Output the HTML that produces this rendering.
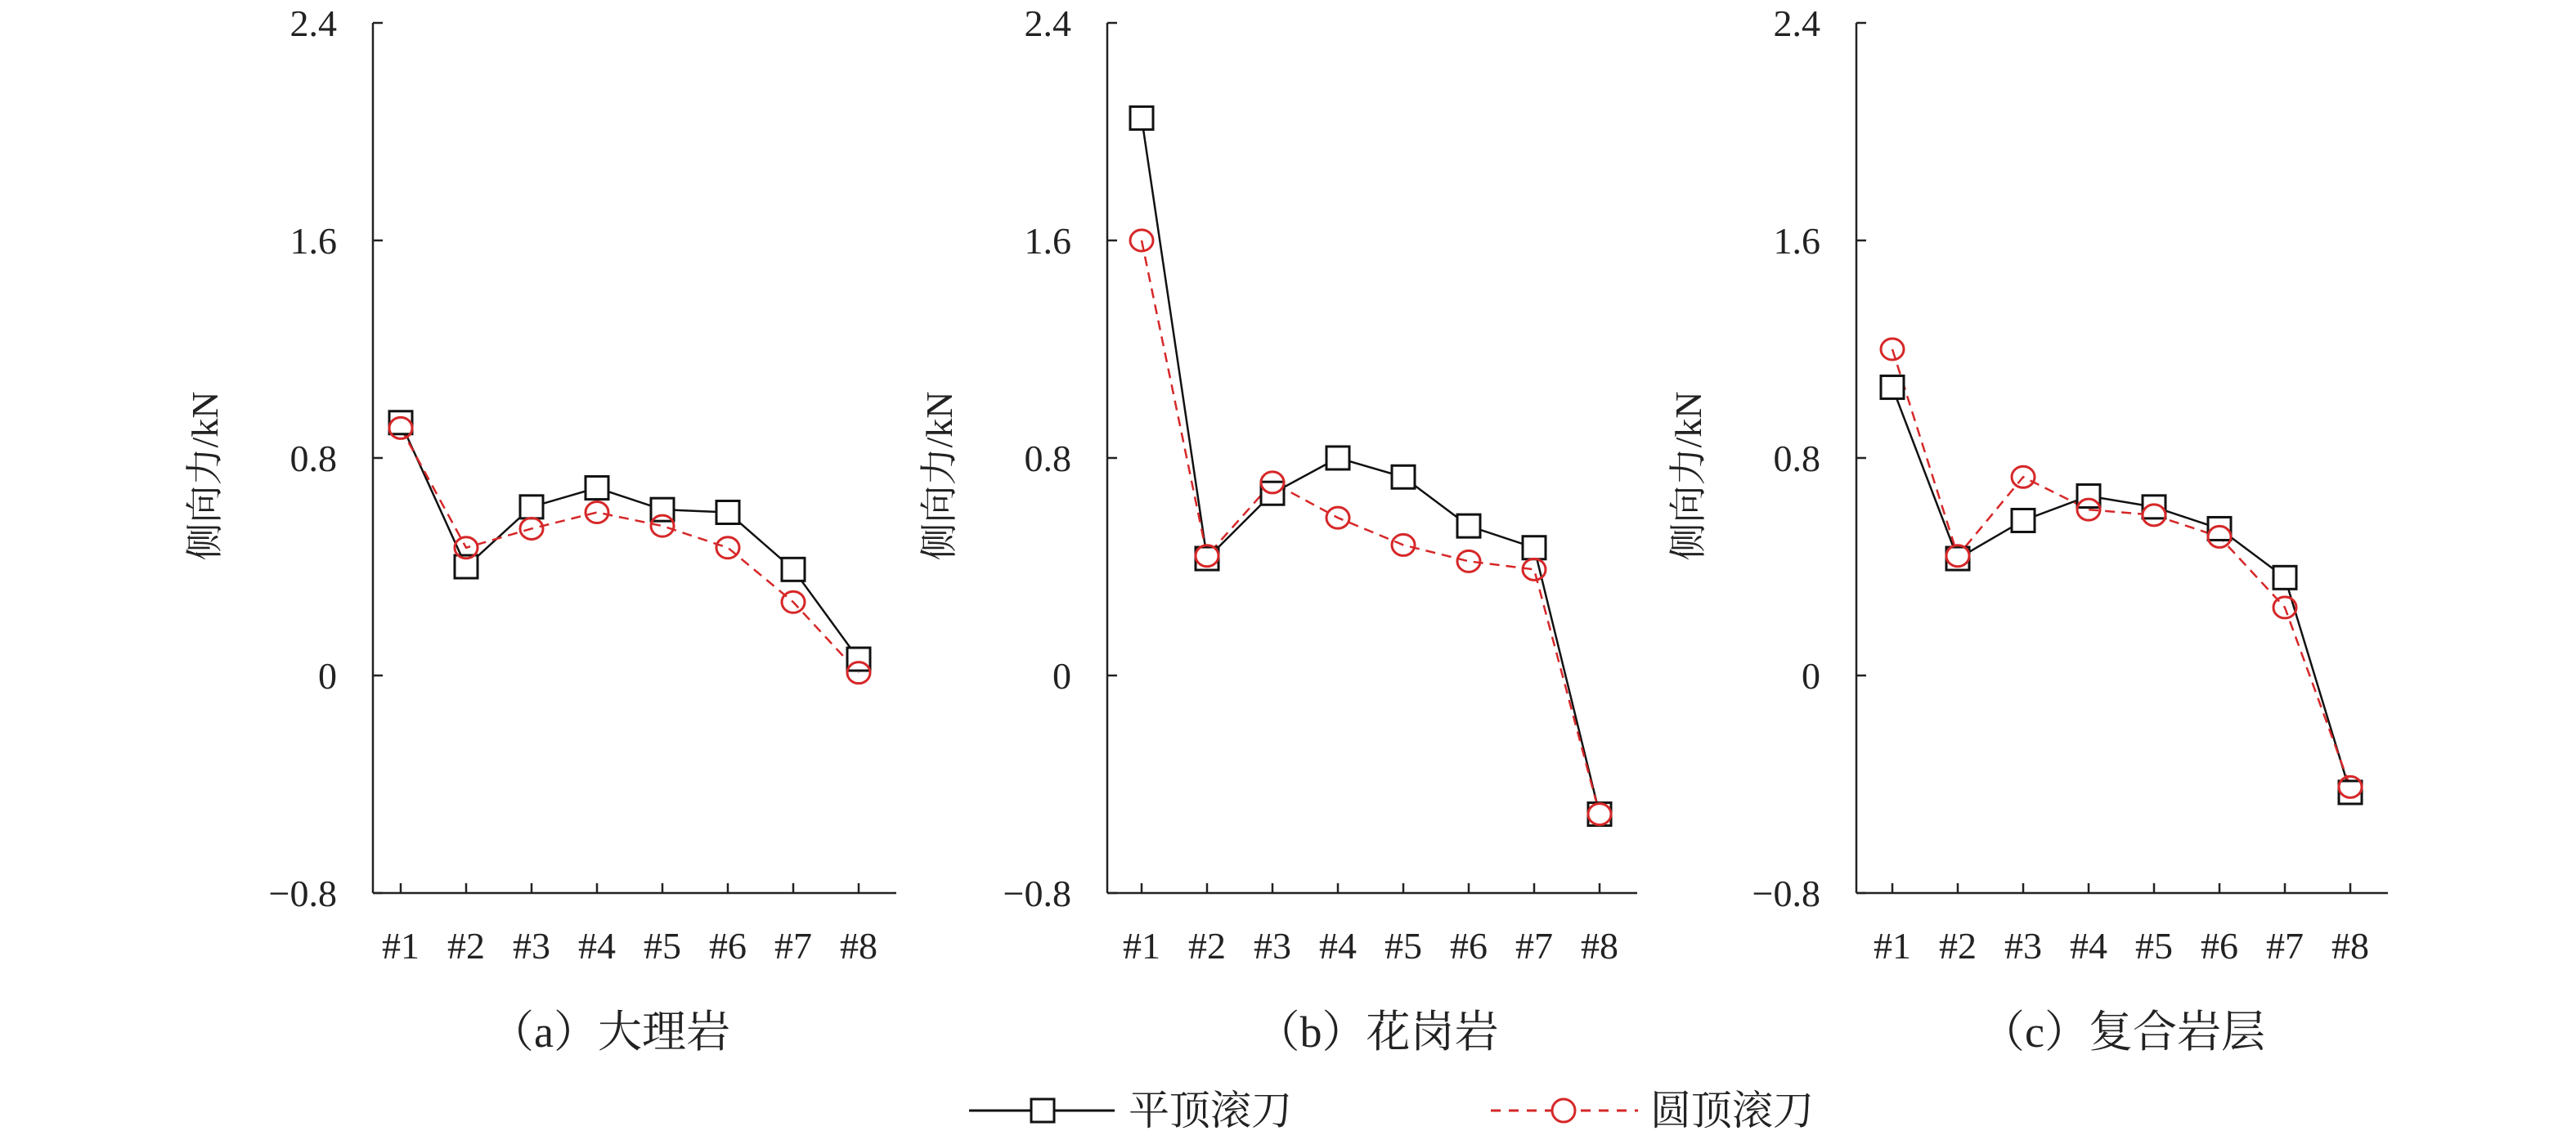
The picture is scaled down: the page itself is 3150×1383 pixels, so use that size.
<!DOCTYPE html>
<html><head><meta charset="utf-8"><style>
html,body{margin:0;padding:0;background:#fff;}
svg{display:block;}
text{font-family:"Liberation Serif","Noto Serif CJK SC",serif;fill:#222;}
</style></head><body>
<svg id="s" width="3150" height="1383" viewBox="0 0 3150 1383" xmlns="http://www.w3.org/2000/svg"></svg>
<script>
const s=document.getElementById('s');let h='';
const panels=[
 {ax:456,x1:490,cap:'（a）大理岩',cx:746,
  f:[0.93,0.40,0.62,0.69,0.61,0.60,0.39,0.06],r:[0.91,0.47,0.54,0.60,0.55,0.47,0.27,0.01]},
 {ax:1354,x1:1396,cap:'（b）花岗岩',cx:1684,
  f:[2.05,0.43,0.67,0.80,0.73,0.55,0.47,-0.51],r:[1.60,0.44,0.71,0.58,0.48,0.42,0.39,-0.51]},
 {ax:2270,x1:2314,cap:'（c）复合岩层',cx:2596,
  f:[1.06,0.43,0.57,0.66,0.62,0.54,0.36,-0.43],r:[1.20,0.44,0.73,0.61,0.59,0.51,0.25,-0.41]}];
const Y=v=>826-v*332.5;
panels.forEach(p=>{
 const xe=p.x1+7*80+46;
 h+=`<line x1="${p.ax}" y1="28" x2="${p.ax}" y2="1092" stroke="#222" stroke-width="2.5"/>`;
 h+=`<line x1="${p.ax}" y1="1092" x2="${xe}" y2="1092" stroke="#222" stroke-width="2.5"/>`;
 [2.4,1.6,0.8,0,-0.8].forEach(v=>{const y=Y(v);
  h+=`<line x1="${p.ax}" y1="${y}" x2="${p.ax+12}" y2="${y}" stroke="#222" stroke-width="2.5"/>`;
  h+=`<text x="${p.ax-44}" y="${y+16}" font-size="46" text-anchor="end">${v===0?'0':v<0?'−0.8':v.toFixed(1)}</text>`;});
 for(let i=0;i<8;i++){const x=p.x1+i*80;
  h+=`<line x1="${x}" y1="1092" x2="${x}" y2="1080" stroke="#222" stroke-width="2.5"/>`;
  h+=`<text x="${x}" y="1172" font-size="46" text-anchor="middle">#${i+1}</text>`;}
 h+=`<text transform="translate(${p.ax-190},582) rotate(-90)" font-size="46" text-anchor="middle">侧向力/kN</text>`;
 h+=`<text x="${p.cx}" y="1280" font-size="54" text-anchor="middle">${p.cap}</text>`;
 const pf=p.f.map((v,i)=>`${p.x1+i*80},${Y(v)}`).join(' ');
 const pr=p.r.map((v,i)=>`${p.x1+i*80},${Y(v)}`).join(' ');
 h+=`<polyline points="${pf}" fill="none" stroke="#111" stroke-width="2.5"/>`;
 h+=`<polyline points="${pr}" fill="none" stroke="#d62728" stroke-width="2.5" stroke-dasharray="12,8"/>`;
 p.f.forEach((v,i)=>{h+=`<rect x="${p.x1+i*80-14}" y="${Y(v)-14}" width="28" height="28" fill="#fff" stroke="#111" stroke-width="3"/>`;});
 p.r.forEach((v,i)=>{h+=`<ellipse cx="${p.x1+i*80}" cy="${Y(v)}" rx="14" ry="13" fill="none" stroke="#d62728" stroke-width="3"/>`;});
});
h+=`<line x1="1185" y1="1358" x2="1363" y2="1358" stroke="#111" stroke-width="3"/>`;
h+=`<rect x="1261" y="1344" width="28" height="28" fill="#fff" stroke="#111" stroke-width="3"/>`;
h+=`<text x="1380" y="1375" font-size="50">平顶滚刀</text>`;
h+=`<line x1="1823" y1="1358" x2="2003" y2="1358" stroke="#d62728" stroke-width="3" stroke-dasharray="12,10"/>`;
h+=`<ellipse cx="1912" cy="1358" rx="14" ry="14" fill="#fff" stroke="#d62728" stroke-width="3"/>`;
h+=`<text x="2018" y="1375" font-size="50">圆顶滚刀</text>`;
s.innerHTML=h;
</script>
</body></html>
